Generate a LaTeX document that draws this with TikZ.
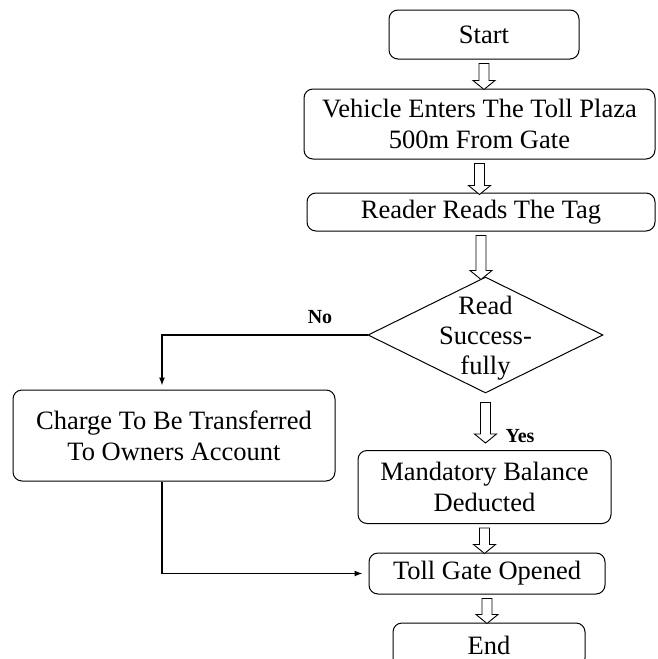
\documentclass[tikz,border=0pt]{standalone}
\usepackage{fontspec}
\setmainfont{Liberation Serif}
\usepackage{tikz}
\usetikzlibrary{shapes.geometric,arrows.meta,calc}

\newcommand{\hollowarrow}[2]{%
    \draw[line width=0.9pt, fill=white]
        let \p1=(#1), \p2=(#2) in
        (\x1-5pt,\y1)
        -- (\x1+5pt,\y1)
        -- (\x1+5pt,\y2+9pt)
        -- (\x1+11pt,\y2+9pt)
        -- (\x1,\y2)
        -- (\x1-11pt,\y2+9pt)
        -- (\x1-5pt,\y2+9pt)
        -- cycle;}

\begin{document}
\begin{tikzpicture}[x=1pt, y=-1pt,
    box/.style={draw, rounded corners=9pt, line width=1pt, inner sep=0pt,
        align=center, font=\fontsize{26.5}{31}\selectfont},
    decision/.style={draw, diamond, line width=1pt, inner sep=0pt},
    lbl/.style={font=\bfseries\fontsize{20}{22}\selectfont},
    flow/.style={line width=1.3pt, -{Latex[length=8pt,width=6pt]}}]
    \clip (0,0) rectangle (657,659);

    \node[box, minimum width=190pt, minimum height=49pt] (start) at (484,34.5) {Start};
    \node[box, minimum width=351pt, minimum height=70pt] (vehicle) at (479.5,124)
        {Vehicle Enters The Toll Plaza\\500m From Gate};
    \node[box, minimum width=348pt, minimum height=38pt] (reader) at (481,212)
        {Reader Reads The Tag};
    \node[decision, minimum width=235pt, minimum height=116pt] (check) at (485.5,335) {};
    \node[align=center, font=\fontsize{26.5}{30}\selectfont] (checktext) at (485.5,338)
        {Read\\Success-\\fully};
    \node[box, minimum width=322pt, minimum height=91pt] (charge) at (174,435.5)
        {Charge To Be Transferred\\To Owners Account};
    \node[box, minimum width=253pt, minimum height=73pt] (mandatory) at (484.5,487)
        {Mandatory Balance\\Deducted};
    \node[box, minimum width=236pt, minimum height=41pt] (toll) at (487,573.5)
        {Toll Gate Opened};
    \node[box, minimum width=192pt, minimum height=44pt] (finish) at (489,645)
        {End};

    \node[lbl] (no) at (320,317) {No};
    \node[lbl] (yes) at (520,436) {Yes};

    \hollowarrow{[yshift=-4pt]start.south}{[yshift=-1pt]vehicle.north}
    \hollowarrow{[yshift=-4pt]vehicle.south}{[yshift=-2pt]reader.north}
    \hollowarrow{[yshift=-4pt]reader.south}{[yshift=-3pt]check.north}
    \hollowarrow{[yshift=-9pt]check.south}{[yshift=7pt]mandatory.north}
    \hollowarrow{[yshift=-4pt]mandatory.south}{[yshift=-1pt]toll.north}
    \hollowarrow{[yshift=-4pt]toll.south}{[yshift=-1pt]finish.north}

    \draw[flow, shorten >=4pt] (check.west) -| ([xshift=-12pt]charge.north);
    \draw[flow, shorten >=6pt] ([xshift=-12pt]charge.south) |- (toll.west);
\end{tikzpicture}
\end{document}
